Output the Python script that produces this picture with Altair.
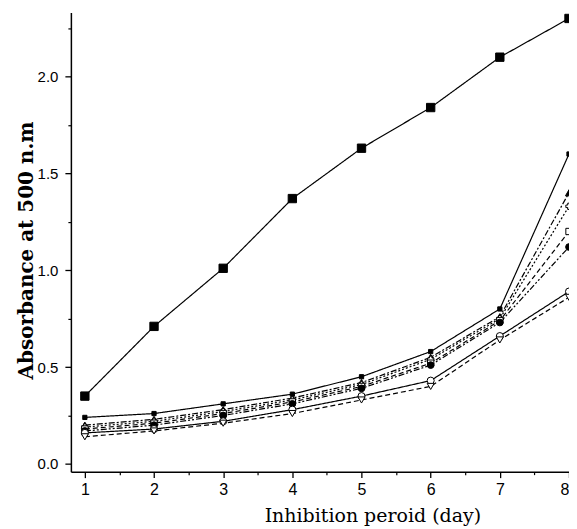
import altair as alt
import pandas as pd

days = [1, 2, 3, 4, 5, 6, 7, 8]
series_names = ["S0", "S1", "S2", "S3", "S4", "S5", "S6", "S7"]
s0 = [0.35, 0.71, 1.01, 1.37, 1.63, 1.84, 2.10, 2.30]
s1 = [0.24, 0.26, 0.31, 0.36, 0.45, 0.58, 0.80, 1.60]
s2 = [0.20, 0.23, 0.28, 0.34, 0.42, 0.55, 0.76, 1.40]
s3 = [0.19, 0.22, 0.27, 0.33, 0.41, 0.54, 0.75, 1.33]
s4 = [0.18, 0.21, 0.26, 0.32, 0.40, 0.52, 0.74, 1.20]
s5 = [0.17, 0.20, 0.25, 0.31, 0.39, 0.51, 0.73, 1.12]
s6 = [0.16, 0.18, 0.22, 0.28, 0.35, 0.43, 0.66, 0.89]
s7 = [0.14, 0.17, 0.21, 0.26, 0.33, 0.40, 0.64, 0.86]
all_values = [s0, s1, s2, s3, s4, s5, s6, s7]

shapes = ["square", "square", "triangle-up", "cross", "square", "circle", "circle", "triangle-down"]
fills = ["black", "black", "black", "white", "white", "black", "white", "white"]
sizes = [70, 18, 50, 40, 40, 45, 50, 50]
dashes = [[1, 0], [1, 0], [6, 2, 2, 2], [2, 2], [5, 3], [6, 2, 2, 2, 2, 2], [1, 0], [5, 3]]

y_major = [0.0, 0.5, 1.0, 1.5, 2.0]
y_minor = [0.25, 0.75, 1.25, 1.75, 2.25]
x_major = days
x_minor = [1.5, 2.5, 3.5, 4.5, 5.5, 6.5, 7.5]

rows = []
for name, vals in zip(series_names, all_values):
    for d, v in zip(days, vals):
        rows.append({"series": name, "day": d, "value": v})
df = pd.DataFrame(rows)

xscale = alt.Scale(domain=[0.798, 8.0], nice=False, zero=False)
yscale = alt.Scale(domain=[-0.04, 2.331], nice=False, zero=False)

x_axis = alt.Axis(
    values=x_major, format="d", tickSize=6, labelPadding=4, labelFontSize=16,
    labelFont="Liberation Sans", title="Inhibition peroid (day)",
    titleFont="DejaVu Serif", titleFontSize=19, titleFontWeight="normal",
    titleX=302, titleY=50, titleAlign="center", titleBaseline="alphabetic",
    domainWidth=1.5, tickWidth=1.3, grid=False,
)
y_axis = alt.Axis(
    values=y_major, format=".1f", tickSize=6, labelPadding=7, labelFontSize=15,
    labelFont="Liberation Sans", title="Absorbance at 500 n.m",
    titleFont="DejaVu Serif", titleFontSize=20, titleFontWeight="bold",
    titleX=-44, titleY=238, titleAngle=-90, titleAlign="center", titleBaseline="middle",
    domainWidth=1.5, tickWidth=1.3, grid=False,
)
x_minor_axis = alt.Axis(values=x_minor, labels=False, tickSize=3, domain=False,
                        title="", orient="bottom", grid=False, tickWidth=1.2)
y_minor_axis = alt.Axis(values=y_minor, labels=False, tickSize=3, domain=False,
                        title="", orient="left", grid=False, tickWidth=1.2)

lines = alt.Chart(df).mark_line(color="black", strokeWidth=1.2).encode(
    x=alt.X("day:Q", scale=xscale, axis=x_axis),
    y=alt.Y("value:Q", scale=yscale, axis=y_axis),
    detail="series:N",
    strokeDash=alt.StrokeDash("series:N", scale=alt.Scale(domain=series_names, range=dashes), legend=None),
)

layers = [lines]
for i, name in enumerate(series_names):
    xa = x_minor_axis if i == 0 else None
    ya = y_minor_axis if i == 0 else None
    pts = alt.Chart(df).transform_filter(alt.datum.series == name).mark_point(
        filled=True, fill=fills[i], stroke="black", strokeWidth=1, opacity=1,
        shape=shapes[i], size=sizes[i],
    ).encode(
        x=alt.X("day:Q", scale=xscale, axis=xa),
        y=alt.Y("value:Q", scale=yscale, axis=ya),
    )
    layers.append(pts)

chart = alt.layer(*layers).resolve_axis(x="independent", y="independent").properties(
    width=499, height=460,
    autosize=alt.AutoSizeParams(type="none"),
    padding={"left": 63, "top": 4, "right": 0, "bottom": 54},
).configure_view(stroke=None).configure_axis(
    domainColor="black", tickColor="black", labelColor="black", titleColor="black"
)

chart.save("out.html", embed_options={"renderer": "svg", "actions": False})
